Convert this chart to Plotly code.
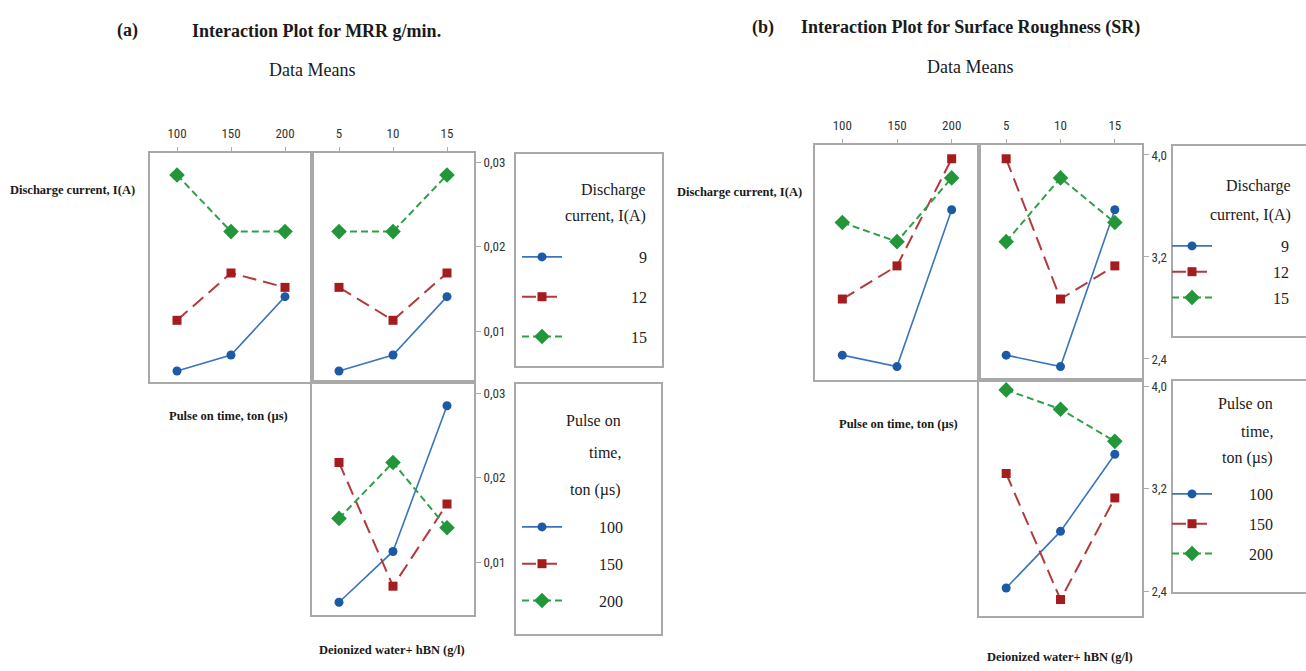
import pandas as pd
import plotly.graph_objects as go

# Taguchi L9 runs: factor settings and measured responses
current_run = [9, 9, 9, 12, 12, 12, 15, 15, 15]
pulse_run = [100, 150, 200, 100, 150, 200, 100, 150, 200]
water_run = [5, 10, 15, 10, 15, 5, 15, 5, 10]
mrr_run = [0.0053, 0.0072, 0.0141, 0.0113, 0.0169, 0.0152, 0.0285, 0.0218, 0.0218]
sr_run = [2.43, 2.34, 3.57, 2.87, 3.13, 3.97, 3.47, 3.32, 3.82]

current_levels = [9, 12, 15]
pulse_levels = [100, 150, 200]
water_levels = [5, 10, 15]

mrr_ticks = [0.01, 0.02, 0.03]
sr_ticks = [2.4, 3.2, 4.0]

runs = pd.DataFrame({
    "current": current_run,
    "pulse": pulse_run,
    "water": water_run,
    "mrr": mrr_run,
    "sr": sr_run,
})

W, H = 1306, 671


def fx(p):
    return p / W


def fy(p):
    return 1 - p / H


BLUE, RED, GREEN = "#1d5aa6", "#a51c1f", "#23963a"
STYLES = [
    dict(color=BLUE, line="#3a74bd", dash="solid", symbol="circle", size=9, width=1.6),
    dict(color=RED, line="#b23a3c", dash="14px,7px", symbol="square", size=9, width=2),
    dict(color=GREEN, line="#2fa046", dash="7px,4px", symbol="diamond", size=12, width=2),
]

SERIF = "Liberation Serif, Times New Roman, serif"
NARROW = "Liberation Sans Narrow, Roboto Condensed, Liberation Sans, sans-serif"
BOX = "#a9a9a9"
FIG_SPACE = "\u2007"

# legend entry text is right-aligned inside each key box (width in digits)
KEY_WIDTH = {"legend": 10, "legend2": 7, "legend3": 9, "legend4": 7}


def key_label(level, legend):
    text = str(level)
    return FIG_SPACE * (KEY_WIDTH[legend] - len(text)) + text


def level_means(resp, group, level, xfac, xlevels):
    sub = runs[runs[group] == level]
    return sub.groupby(xfac)[resp].mean().reindex(xlevels)


fig = go.Figure()


def add_panel(resp, axes, legends):
    """axes: suffixes for top-left, top-right, bottom; legends: (top key, bottom key)."""
    tl, tr, bt = axes
    for i, lev in enumerate(current_levels):
        st = STYLES[i]
        for k, (xfac, xlv, ax) in enumerate([("pulse", pulse_levels, tl), ("water", water_levels, tr)]):
            m = level_means(resp, "current", lev, xfac, xlv)
            fig.add_trace(go.Scatter(
                x=list(m.index), y=list(m.values), mode="lines+markers",
                xaxis="x" + ax, yaxis="y" + ax,
                name=key_label(lev, legends[0]), legend=legends[0],
                legendgroup=f"{legends[0]}{lev}", showlegend=(k == 0),
                line=dict(color=st["line"], width=st["width"], dash=st["dash"]),
                marker=dict(color=st["color"], symbol=st["symbol"], size=st["size"]),
            ))
    for i, lev in enumerate(pulse_levels):
        st = STYLES[i]
        m = level_means(resp, "pulse", lev, "water", water_levels)
        fig.add_trace(go.Scatter(
            x=list(m.index), y=list(m.values), mode="lines+markers",
            xaxis="x" + bt, yaxis="y" + bt,
            name=key_label(lev, legends[1]), legend=legends[1],
            legendgroup=f"{legends[1]}{lev}",
            line=dict(color=st["line"], width=st["width"], dash=st["dash"]),
            marker=dict(color=st["color"], symbol=st["symbol"], size=st["size"]),
        ))


add_panel("mrr", ("", "2", "3"), ("legend", "legend2"))
add_panel("sr", ("4", "5", "6"), ("legend3", "legend4"))

base = dict(showline=True, mirror=True, linecolor=BOX, linewidth=2,
            showgrid=False, zeroline=False, fixedrange=True)
tickfont = dict(family=NARROW, size=13, color="#333333")


def top_x(dom, rng, vals, anchor):
    return dict(base, domain=dom, range=rng, tickvals=vals, side="top", anchor=anchor,
                ticks="outside", ticklen=4, tickcolor="#aaaaaa", tickfont=tickfont,
                ticklabelstandoff=4)


def bare_x(dom, rng, anchor):
    return dict(base, domain=dom, range=rng, anchor=anchor, showticklabels=False, ticks="")


def bare_y(dom, rng, anchor):
    return dict(base, domain=dom, range=rng, anchor=anchor, showticklabels=False, ticks="")


def right_y(dom, rng, vals, fmt, anchor):
    return dict(base, domain=dom, range=rng, anchor=anchor, side="right", tickvals=vals,
                tickformat=fmt, ticks="outside", ticklen=5, tickcolor="#aaaaaa",
                tickfont=tickfont)


pulse_rng = [75, 225]
water_rng = [2.5, 17.5]

# panel (a) geometry in pixels
aL, aM, aR, aT, aJ, aB = 150, 312, 474, 153, 382, 615
# panel (b) geometry in pixels
bL, bM, bR, bT, bJ, bB = 815, 979, 1142, 145, 380, 616

mrr_top_rng = [0.0040, 0.0311]
mrr_bot_rng = [0.0038, 0.0313]
sr_top_rng = [2.235, 4.078]
sr_bot_rng = [2.212, 4.047]

layout_axes = dict(
    xaxis=top_x([fx(aL), fx(aM)], pulse_rng, pulse_levels, "y"),
    yaxis=bare_y([fy(aJ), fy(aT)], mrr_top_rng, "x"),
    xaxis2=top_x([fx(aM), fx(aR)], water_rng, water_levels, "y2"),
    yaxis2=right_y([fy(aJ), fy(aT)], mrr_top_rng, mrr_ticks, ".2f", "x2"),
    xaxis3=bare_x([fx(aM), fx(aR)], water_rng, "y3"),
    yaxis3=right_y([fy(aB), fy(aJ)], mrr_bot_rng, mrr_ticks, ".2f", "x3"),
    xaxis4=top_x([fx(bL), fx(bM)], pulse_rng, pulse_levels, "y4"),
    yaxis4=bare_y([fy(bJ), fy(bT)], sr_top_rng, "x4"),
    xaxis5=top_x([fx(bM), fx(bR)], water_rng, water_levels, "y5"),
    yaxis5=right_y([fy(bJ), fy(bT)], sr_top_rng, sr_ticks, ".1f", "x5"),
    xaxis6=bare_x([fx(bM), fx(bR)], water_rng, "y6"),
    yaxis6=right_y([fy(bB), fy(bJ)], sr_bot_rng, sr_ticks, ".1f", "x6"),
)

leg_font = dict(family=SERIF, size=16, color="#222222")


def legend_at(x_marker, y_first, gap, size=16):
    return dict(x=fx(x_marker - 25), y=fy(y_first - 17), xanchor="left", yanchor="top",
                bgcolor="rgba(0,0,0,0)", borderwidth=0, itemwidth=40,
                tracegroupgap=gap, traceorder="grouped",
                font=dict(leg_font, size=size))


shapes = []
for x0, y0, x1, y1 in [(515, 153, 663, 367), (515, 383, 662, 635),
                       (1172, 145, 1312, 337), (1172, 380, 1312, 593)]:
    shapes.append(dict(type="rect", xref="paper", yref="paper",
                       x0=fx(x0), x1=fx(x1), y0=fy(y1), y1=fy(y0),
                       line=dict(color=BOX, width=2)))

annotations = []


def note(text, x, y, size, bold=False, xanchor="center", family=SERIF, color="#1a1a1a"):
    annotations.append(dict(
        text=f"<b>{text}</b>" if bold else text, x=fx(x), y=fy(y),
        xref="paper", yref="paper", xanchor=xanchor, yanchor="middle",
        showarrow=False, font=dict(family=family, size=size, color=color), align="right"))


# titles
note("(a)", 127, 30, 18, bold=True)
note("Interaction Plot for MRR g/min.", 316, 31, 18, bold=True)
note("Data Means", 312, 70, 18)
note("(b)", 763, 28, 18, bold=True)
note("Interaction Plot for Surface Roughness (SR)", 970, 28, 18, bold=True)
note("Data Means", 970, 67, 18)

# factor labels
note("Discharge current, I(A)", 8, 190, 12.5, bold=True, xanchor="left")
note("Pulse on time, ton (µs)", 228, 416, 12.5, bold=True)
note("Deionized water+ hBN (g/l)", 392, 650, 12.5, bold=True)
note("Discharge current, I(A)", 675, 192, 12.5, bold=True, xanchor="left")
note("Pulse on time, ton (µs)", 898, 424, 12.5, bold=True)
note("Deionized water+ hBN (g/l)", 1060, 657, 12.5, bold=True)

# key headings
note("Discharge", 648, 190, 16, xanchor="right")
note("current, I(A)", 648, 216, 16, xanchor="right")
note("Pulse on", 623, 420, 16, xanchor="right")
note("time,", 623, 452, 16, xanchor="right")
note("ton (µs)", 623, 490, 16, xanchor="right")
note("Discharge", 1293, 186, 16, xanchor="right")
note("current, I(A)", 1293, 215, 16, xanchor="right")
note("Pulse on", 1275, 403, 16, xanchor="right")
note("time,", 1275, 431, 16, xanchor="right")
note("ton (µs)", 1275, 458, 16, xanchor="right")

fig.update_layout(
    width=W, height=H, autosize=False,
    margin=dict(l=0, r=0, t=0, b=0),
    paper_bgcolor="white", plot_bgcolor="white",
    separators=", ",
    showlegend=True,
    legend=legend_at(542, 257, 16),
    legend2=legend_at(542, 527, 13),
    legend3=legend_at(1192, 246, 2),
    legend4=legend_at(1192, 494, 6),
    shapes=shapes,
    annotations=annotations,
    **layout_axes,
)

fig.write_html("out.html", include_plotlyjs=True, config={"displayModeBar": False})
